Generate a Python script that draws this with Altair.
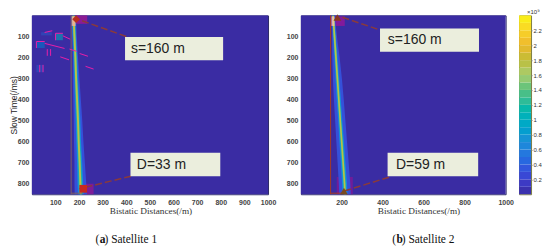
import altair as alt
import pandas as pd

rows = [1, 100, 200, 300, 400, 500, 600, 700, 800, 850]
ridge_a = [177, 181, 185, 188, 192, 196, 199, 203, 206, 208]
ridge_b = [158, 165, 172, 179, 186, 193, 200, 207, 214, 216]
levels = [0.3, 0.7, 1.2, 1.75]
halves_a = [[10, 10, 11, 14, 16, 18, 20, 22, 25, 26],
            [7, 7, 8, 8, 9, 10, 10, 11, 12, 12],
            [5, 5, 5, 5, 6, 6, 6, 6, 7, 7],
            [4, 4, 4, 4, 4, 4, 4, 4, 4, 4]]
halves_b = [[8, 12, 18, 22, 24, 25, 26, 27, 28, 28],
            [6, 6, 8, 9, 10, 10, 11, 11, 12, 12],
            [5, 5, 5, 5, 5, 5, 6, 6, 6, 6],
            [4, 4, 4, 4, 4, 4, 4, 4, 4, 4]]

parula_stops = [0, 0.2, 0.4, 0.6, 0.8, 1.0, 1.2, 1.4, 1.6, 1.8, 2.0, 2.2, 2.4]
parula_colors = ["#3a2ca3", "#3d3fd0", "#2f5fe0", "#2a80dc", "#1f98d2", "#12aec0", "#20baa0",
                 "#55c080", "#a8cc70", "#c0bc38", "#eeb82e", "#f8d428", "#f8f414"]

x_ticks_a = [100, 200, 300, 400, 500, 600, 700, 800, 900, 1000]
x_ticks_b = [200, 400, 600, 800, 1000]
y_ticks = [100, 200, 300, 400, 500, 600, 700, 800]
cbar_ticks = [0.2, 0.4, 0.6, 0.8, 1.0, 1.2, 1.4, 1.6, 1.8, 2.0, 2.2]
cbar_edges = [i / 10 for i in range(0, 25)]

boxes_a = [(395, 810, 102, 213, "s=160 m", 420), (418, 798, 653, 765, "D=33 m", 445)]
boxes_b = [(387, 870, 62, 173, "s=160 m", 425), (424, 866, 653, 765, "D=59 m", 465)]
arrows_a = [(400, 100, 195, 18), (420, 764, 202, 824)]
arrows_b = [(374, 65, 195, 6), (431, 769, 211, 835)]
frame_a = [(167, 0, 167, 850), (167, 845, 215, 845)]
frame_b = [(146, 0, 146, 850), (146, 845, 215, 845)]
patches_a = [(167, 235, 0, 40, "#9a1a90"), (215, 262, 800, 850, "#8a1a98"),
             (20, 55, 124, 155, "#1560c0"), (101, 132, 85, 118, "#1880b0"),
             (40, 85, 80, 95, "#3048b8"), (20, 50, 235, 270, "#3048b8")]
patches_b = [(146, 215, 5, 50, "#90189a"), (176, 254, 768, 850, "#7a1a98")]
tops_a = [(168, 186, 5, 50, "#ffb0a0")]
tops_b = [(150, 165, 5, 50, "#ffc0b0")]
dashes_a = [(55, 81, 87, 73), (132, 97, 163, 113), (55, 133, 139, 157), (160, 160, 191, 171),
            (203, 181, 238, 194), (121, 197, 158, 211), (228, 242, 262, 255),
            (66, 160, 66, 192), (80, 160, 80, 192), (34, 235, 34, 270), (48, 235, 48, 270),
            (101, 85, 132, 85), (101, 85, 101, 118), (20, 124, 55, 124), (20, 124, 20, 155)]
dashes_b = []
markers_a = [(188, 18, "diamond", "#b83020"), (218, 824, "square", "#c8281e")]
markers_b = [(179, 10, "triangle-up", "#8a3a20"), (211, 835, "triangle-up", "#7a4a20")]
caption_a = [(270, "(", "normal"), (288, "a", "bold"), (308, ") Satellite 1", "normal")]
caption_b = [(447, "(", "normal"), (468, "b", "bold"), (493, ") Satellite 2", "normal")]

color_scale = alt.Scale(domain=parula_stops, range=parula_colors)
SANS, SERIF = "Liberation Sans", "Liberation Serif"


def panel(width, ridge, halves, boxes, arrows, frame, patches, tops, dashes, markers, caption,
          xticks, xlabel, ytitle, title_x, frame_color):
    xs = alt.Scale(domain=[1, 1000], nice=False)
    ys = alt.Scale(domain=[0, 850], nice=False, reverse=True)
    xaxis = alt.Axis(values=xticks, title=xlabel, format="d", grid=False, domain=False, tickSize=0,
                     labelFlush=False, labelOverlap=False,
                     labelPadding=4, labelFont=SANS, labelFontSize=7, labelFontWeight="bold", labelColor="#444",
                     titleFont=SERIF, titleFontSize=9.3, titleFontWeight="normal", titleColor="#333",
                     titlePadding=1, titleX=title_x)
    yaxis = alt.Axis(values=y_ticks, title=ytitle, format="d", grid=False, domain=False, tickSize=0,
                     labelPadding=3, labelFont=SANS, labelFontSize=7, labelFontWeight="bold", labelColor="#444",
                     titleFont=SANS, titleFontSize=8.5, titleFontWeight="normal", titleColor="#222",
                     titlePadding=-1)
    X = alt.X("x:Q", scale=xs, axis=xaxis)
    Y = alt.Y("y:Q", scale=ys, axis=yaxis)

    bg = alt.Chart(pd.DataFrame([{"x": 1, "x2": 1000, "y": 0, "y2": 850, "v": 0}])).mark_rect().encode(
        x=X, x2="x2:Q", y=Y, y2="y2:Q",
        color=alt.Color("v:Q", scale=color_scale, legend=None))
    layers = [bg]

    pdf = pd.DataFrame(patches, columns=["x", "x2", "y", "y2", "c"])
    layers.append(alt.Chart(pdf).mark_rect(opacity=0.85).encode(
        x=X, x2="x2:Q", y=Y, y2="y2:Q", fill=alt.Fill("c:N", scale=None)))

    for level, half in zip(levels, halves):
        df = pd.DataFrame({"y": rows, "x": [c - h for c, h in zip(ridge, half)],
                           "x2": [c + h for c, h in zip(ridge, half)], "v": level})
        layers.append(alt.Chart(df).mark_area(orient="horizontal").encode(
            x=X, x2="x2:Q", y=Y, color=alt.Color("v:Q", scale=color_scale, legend=None)))

    tdf = pd.DataFrame(tops, columns=["x", "x2", "y", "y2", "c"])
    layers.append(alt.Chart(tdf).mark_rect(opacity=0.75).encode(
        x=X, x2="x2:Q", y=Y, y2="y2:Q", fill=alt.Fill("c:N", scale=None)))

    fdf = pd.DataFrame(frame, columns=["x", "y", "x2", "y2"])
    layers.append(alt.Chart(fdf).mark_rule(color=frame_color, strokeWidth=1).encode(
        x=X, y=Y, x2="x2:Q", y2="y2:Q"))

    if dashes:
        ddf = pd.DataFrame(dashes, columns=["x", "y", "x2", "y2"])
        layers.append(alt.Chart(ddf).mark_rule(color="#e81ea8", strokeWidth=1).encode(
            x=X, y=Y, x2="x2:Q", y2="y2:Q"))

    adf = pd.DataFrame(arrows, columns=["x", "y", "x2", "y2"])
    layers.append(alt.Chart(adf).mark_rule(color="#8a3a3a", strokeWidth=1.5, strokeDash=[7, 3]).encode(
        x=X, y=Y, x2="x2:Q", y2="y2:Q"))

    mdf = pd.DataFrame(markers, columns=["x", "y", "s", "c"])
    layers.append(alt.Chart(mdf).mark_point(filled=True, size=60, opacity=1).encode(
        x=X, y=Y, shape=alt.Shape("s:N", scale=None), fill=alt.Fill("c:N", scale=None),
        stroke=alt.value(None)))

    bdf = pd.DataFrame(boxes, columns=["x", "x2", "y", "y2", "t", "tx"])
    bdf["ty"] = (bdf["y"] + bdf["y2"]) / 2
    layers.append(alt.Chart(bdf).mark_rect(fill="#ebeedd").encode(x=X, x2="x2:Q", y=Y, y2="y2:Q"))
    layers.append(alt.Chart(bdf).mark_text(font=SANS, fontSize=14, align="left", baseline="middle",
                                           color="#222").encode(
        x=alt.X("tx:Q", scale=xs, axis=xaxis), y=alt.Y("ty:Q", scale=ys, axis=yaxis), text="t:N"))

    cdf = pd.DataFrame(caption, columns=["x", "t", "w"])
    cdf["y"] = 1069
    for weight in ["normal", "bold"]:
        layers.append(alt.Chart(cdf[cdf.w == weight]).mark_text(
            font=SERIF, fontSize=11.5, align="left", baseline="middle", color="#111",
            fontWeight=weight).encode(x=X, y=Y, text="t:N"))

    return alt.layer(*layers).properties(width=width, height=179.5)


left = panel(237, ridge_a, halves_a, boxes_a, arrows_a, frame_a, patches_a, tops_a, dashes_a, markers_a, caption_a,
             x_ticks_a, "Bistatic Distances(/m)", "Slow Time(/ms)", 119, "#7d5f62")
right = panel(205.5, ridge_b, halves_b, boxes_b, arrows_b, frame_b, patches_b, tops_b, dashes_b, markers_b, caption_b,
              x_ticks_b, "Bistatic Distances(/m)", None, 118, "#a83a20")

cb = pd.DataFrame({"v0": cbar_edges[:-1], "v1": cbar_edges[1:],
                   "v": [(a + b) / 2 for a, b in zip(cbar_edges[:-1], cbar_edges[1:])]})
cscale = alt.Scale(domain=[0, 2.4], nice=False)
caxis = alt.Axis(orient="right", values=cbar_ticks, title=None, format=".1~f",
                 grid=False, domain=False, tickSize=1, labelPadding=1, labelFont=SANS, labelFontSize=6,
                 labelColor="#333")
cbar = alt.Chart(cb).mark_rect().encode(
    x=alt.value(0), x2=alt.value(12),
    y=alt.Y("v0:Q", scale=cscale, axis=caxis),
    y2="v1:Q",
    color=alt.Color("v:Q", scale=color_scale, legend=None))
exp = alt.Chart(pd.DataFrame([{"v": 2.4, "t": "×10⁹"}])).mark_text(
    font=SANS, fontSize=6, align="left", baseline="middle", dy=-3, dx=8, color="#333").encode(
    x=alt.value(0), y=alt.Y("v:Q", scale=cscale, axis=caxis), text="t:N")
colorbar = alt.layer(cbar, exp).properties(width=12, height=179.5,
                                            view=alt.ViewConfig(stroke="#7a7a40", strokeWidth=1))

pair = alt.hconcat(left, right, spacing=8).resolve_scale(color="independent", x="independent", y="independent")
chart = alt.hconcat(pair, colorbar, spacing=4).resolve_scale(
    color="independent", x="independent", y="independent"
).configure_view(stroke="#2c2a66", strokeWidth=1).properties(
    padding={"left": 0, "top": 0, "right": 0, "bottom": 0}, background="white")

chart.save("out.html", embed_options={"renderer": "svg", "actions": False})
